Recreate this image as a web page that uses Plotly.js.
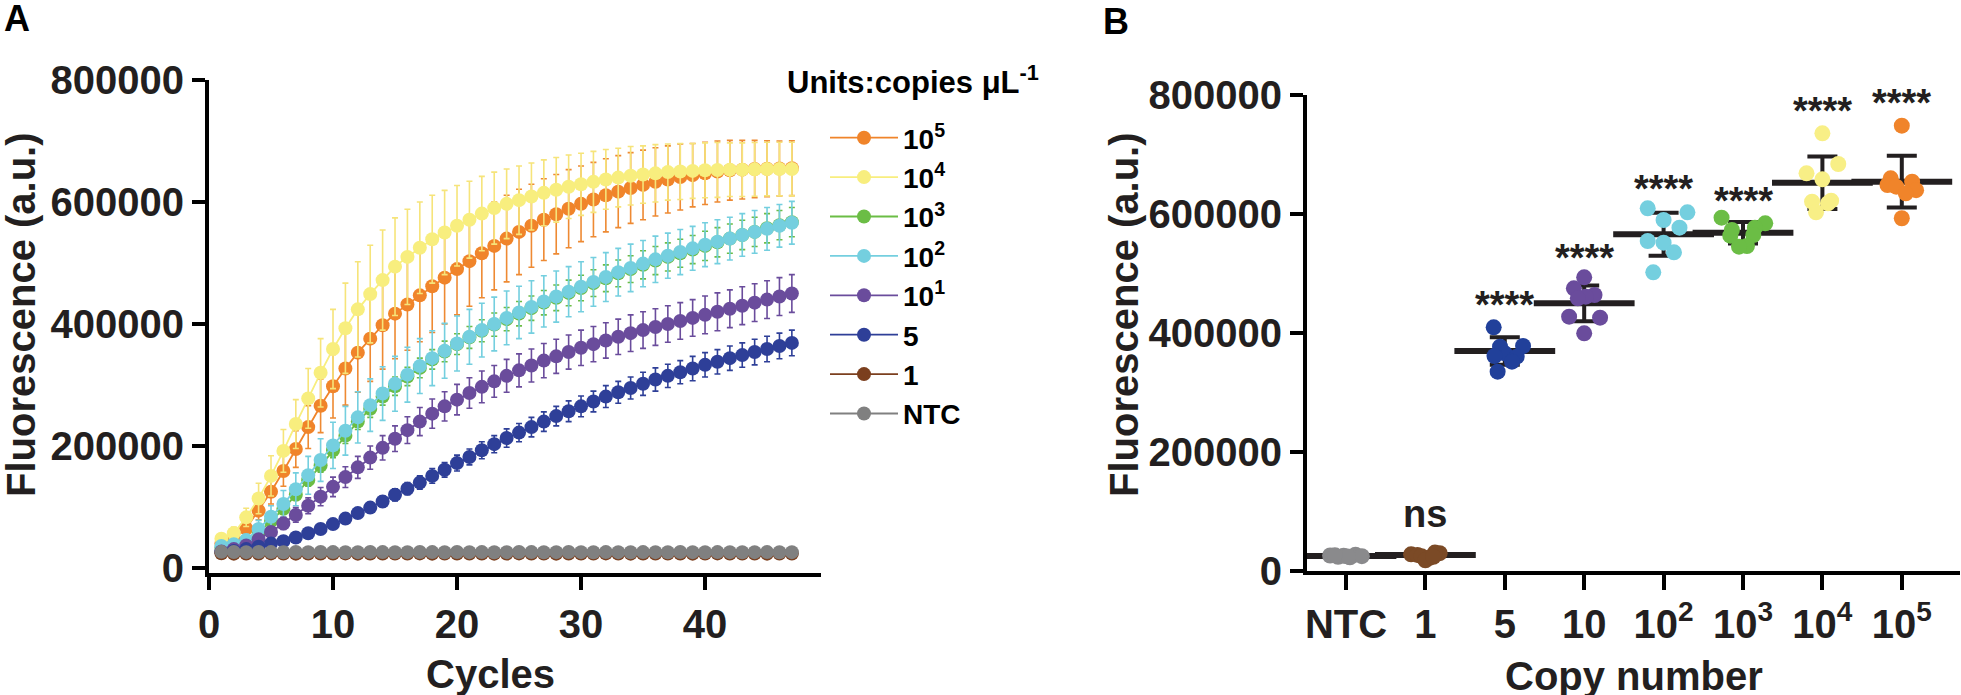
<!DOCTYPE html>
<html><head><meta charset="utf-8">
<script src="https://cdn.plot.ly/plotly-3.0.1.min.js"></script>
<style>html,body{margin:0;padding:0;background:#fff;} #chart{width:1961px;height:695px;}</style>
</head><body><div id="chart"></div>
<script>
// ---------- Panel A : amplification curves ----------
const CYCLES = [1,2,3,4,5,6,7,8,9,10,11,12,13,14,15,16,17,18,19,20,21,22,23,24,25,26,27,28,29,30,31,32,33,34,35,36,37,38,39,40,41,42,43,44,45,46,47];

const SERIES_NAMES = ['10<sup>5</sup>','10<sup>4</sup>','10<sup>3</sup>','10<sup>2</sup>','10<sup>1</sup>','5','1','NTC'];

const MEAN_E5 = [40000,48000,65000,94000,125000,159000,195000,231000,266000,298000,
  327000,353000,376000,398000,417000,432000,447000,462000,476000,490000,
  503000,516000,528000,540000,551000,561000,571000,580000,589000,597000,
  604000,611000,617000,623000,628000,633000,637000,641000,644000,647000,
  650000,652000,653000,654000,654500,655000,655500];
const SD_E5 = [5000,7000,10000,15000,20000,25000,30000,35000,44000,52000,
  60000,65000,70000,72000,74000,75000,76000,76000,76000,75000,
  74000,73000,72000,71000,70000,68000,67000,65000,64000,62000,
  61000,60000,59000,58000,57000,56000,55000,54000,52000,51000,
  50000,49000,48000,47000,46000,45000,45000];

const MEAN_E4 = [48000,57000,83000,114000,151000,192000,236000,278000,320000,359000,
  393000,424000,449000,472000,494000,510000,525000,539000,550000,561000,
  571000,581000,590000,597000,603000,609000,615000,620000,625000,629000,
  633000,637000,640000,643000,645000,647000,649000,650000,651000,652000,
  652500,653000,653000,653500,654000,654000,654000];
const SD_E4 = [8000,10000,15000,25000,33000,35000,40000,49000,56000,65000,
  74000,78000,80000,82000,80000,78000,75000,72000,69000,66000,
  63000,61000,59000,57000,56000,55000,54000,53000,52000,51000,
  50000,49000,48000,48000,47000,47000,46000,46000,45000,45000,
  45000,44000,44000,44000,44000,44000,44000];

const MEAN_E3 = [33000,36000,42000,58000,77000,97000,120000,144000,168000,193000,
  217000,240000,261000,281000,298000,314000,328000,342000,355000,367000,
  378000,389000,399000,408000,417000,426000,435000,443000,451000,459000,
  467000,475000,483000,490000,497000,504000,510000,516000,522000,528000,
  534000,540000,546000,551000,557000,562000,567000];
const SD_E3 = [3000,4000,5000,6000,7000,8000,9000,10000,11000,12000,
  13000,13000,14000,14000,15000,15000,16000,16000,17000,17000,
  18000,18000,19000,19000,20000,20000,20000,21000,21000,21000,
  22000,22000,22000,22000,23000,23000,23000,23000,23000,24000,
  24000,24000,24000,24000,24000,24000,24000];

const MEAN_E2 = [36000,39000,46000,64000,84000,105000,129000,152000,177000,201000,
  225000,247000,267000,286000,302000,317000,331000,344000,356000,368000,
  379000,390000,400000,410000,419000,428000,437000,445000,453000,461000,
  469000,477000,485000,492000,499000,506000,512000,518000,524000,530000,
  535000,540000,546000,551000,556000,561000,566000];
const SD_E2 = [5000,6000,9000,14000,18000,22000,27000,31000,35000,38000,
  40000,42000,43000,44000,45000,45000,45000,45000,45000,45000,
  45000,44000,44000,44000,43000,43000,42000,42000,41000,41000,
  40000,40000,39000,39000,38000,38000,37000,37000,36000,36000,
  36000,35000,35000,35000,35000,35000,35000];

const MEAN_E1 = [27000,31000,37000,47000,59000,73000,87000,102000,117000,133000,
  149000,165000,181000,197000,212000,226000,240000,253000,265000,276000,
  287000,297000,306000,315000,324000,332000,340000,347000,354000,361000,
  367000,373000,379000,385000,390000,395000,400000,405000,410000,415000,
  420000,425000,430000,435000,440000,445000,450000];
const SD_E1 = [2000,3000,4000,6000,8000,10000,12000,13000,15000,16000,
  17000,18000,19000,20000,21000,22000,23000,24000,24000,25000,
  25000,26000,26000,27000,27000,27000,28000,28000,28000,29000,
  29000,29000,29000,30000,30000,30000,30000,30000,30000,31000,
  31000,31000,31000,31000,31000,31000,31000];

const MEAN_5 = [26000,28000,31000,35000,40000,44000,50000,57000,64000,72000,
  81000,90000,99000,109000,120000,130000,140000,151000,161000,172000,
  182000,193000,203000,213000,222000,231000,240000,249000,257000,265000,
  273000,281000,288000,295000,302000,309000,315000,321000,327000,333000,
  338000,344000,349000,354000,359000,364000,369000];
const SD_5 = [2000,2000,3000,3000,4000,4000,5000,5000,6000,6000,
  7000,8000,8000,9000,10000,10000,11000,12000,12000,13000,
  13000,14000,14000,15000,15000,16000,16000,16000,17000,17000,
  17000,18000,18000,18000,19000,19000,19000,19000,20000,20000,
  20000,20000,20000,21000,21000,21000,21000];

const MEAN_1 = [24000,23500,23800,23600,23900,23700,23500,23800,23600,23700,
  23900,23500,23600,23800,23700,23600,23900,23500,23700,23800,
  23600,23700,23500,23800,23900,23600,23700,23500,23800,23600,
  23700,23900,23600,23500,23800,23700,23600,23800,23500,23700,
  23900,23600,23700,23800,23500,23700,23600];
const SD_1 = [1500,1500,1500,1500,1500,1500,1500,1500,1500,1500,
  1500,1500,1500,1500,1500,1500,1500,1500,1500,1500,
  1500,1500,1500,1500,1500,1500,1500,1500,1500,1500,
  1500,1500,1500,1500,1500,1500,1500,1500,1500,1500,
  1500,1500,1500,1500,1500,1500,1500];

const MEAN_NTC = [26500,26200,26000,26300,26100,25900,26200,26000,26300,26100,
  25800,26000,26200,26100,25900,26000,26300,26100,25900,26200,
  26000,26100,25800,26000,26200,26100,25900,26000,26200,26000,
  25900,26100,26000,25800,26100,26000,25900,26200,26000,25900,
  26100,26000,25800,26000,26100,25900,26000];
const SD_NTC = [1200,1200,1200,1200,1200,1200,1200,1200,1200,1200,
  1200,1200,1200,1200,1200,1200,1200,1200,1200,1200,
  1200,1200,1200,1200,1200,1200,1200,1200,1200,1200,
  1200,1200,1200,1200,1200,1200,1200,1200,1200,1200,
  1200,1200,1200,1200,1200,1200,1200];

// ---------- Panel B : end-point fluorescence ----------
const GROUP_LABELS = ['NTC','1','5','10','10<sup>2</sup>','10<sup>3</sup>','10<sup>4</sup>','10<sup>5</sup>'];
const PTS_NTC = [26000,24000,25500,23000,27500,25000,24500,26500];
const PTS_1   = [30000,28000,27000,31000,25000,22000,18000,24000];
const PTS_5   = [409500,378200,377000,365800,361400,360200,351800,335000];
const PTS_10  = [493500,475100,463900,461000,458300,427400,425700,399500];
const PTS_E2  = [609500,602800,589900,577000,554600,551800,535600,502000];
const PTS_E3  = [593800,584300,577000,573100,564700,563600,546200,545100];
const PTS_E4  = [735600,684000,668400,658300,622400,620700,618000,602800];
const PTS_E5  = [748500,660000,654300,648700,645900,640000,634700,592800];
const GROUP_MEAN = [25200,26900,369800,449900,565900,568600,652600,654300];
const GROUP_SD   = [1500,4000,23000,30000,36000,18000,44000,43500];
const SIG_LABELS = ['','ns','****','****','****','****','****','****'];
const SIG_Y      = [null,91300,460500,539500,655500,635300,786600,800000];

// ---------- styling (not data) ----------
const FONT = 'Liberation Sans, Arial, Helvetica, sans-serif';
const TXT = '#231f20';
const COLORS_A = ['#f0842a','#f8ee7e','#6bbd45','#74cfdf','#6a4c9c','#2e3f98','#7b3f1e','#808080'];
const ERR_COLORS_A = ['#ee8a33','#f6e47a','#6bbd45','#74cfdf','#6a4c9c','#2e3f98','#7b3f1e','#808080'];
const COLORS_B = ['#8a8a8c','#7b4a26','#21409a','#6a4c9c','#74cfdf','#6bbd45','#f8ef86','#f0842a'];
const JITTER = [
  [-0.2,-0.1,-0.03,0.05,0.12,0.2,0.02,-0.14],
  [0.18,-0.18,-0.1,0.12,-0.05,0.05,0,0.1],
  [-0.14,0.23,-0.06,0,-0.13,0.15,0.09,-0.09],
  [0,-0.13,0.13,0.02,-0.08,-0.19,0.2,0],
  [-0.2,0.3,0,0.2,-0.2,0,0.13,-0.13],
  [-0.27,0.28,0.15,-0.14,0.13,-0.16,0.05,-0.05],
  [0,0.2,-0.2,0,0.11,-0.13,0.07,-0.08],
  [0,-0.14,0.13,-0.18,-0.07,0.18,0.05,0]
];

const MEANS_A = [MEAN_E5,MEAN_E4,MEAN_E3,MEAN_E2,MEAN_E1,MEAN_5,MEAN_1,MEAN_NTC];
const SDS_A = [SD_E5,SD_E4,SD_E3,SD_E2,SD_E1,SD_5,SD_1,SD_NTC];
const PTS_B = [PTS_NTC,PTS_1,PTS_5,PTS_10,PTS_E2,PTS_E3,PTS_E4,PTS_E5];

const traces = [];
MEANS_A.forEach((m,i)=>{
  traces.push({
    type:'scatter', mode:'lines+markers', x:CYCLES, y:m, name:SERIES_NAMES[i],
    xaxis:'x', yaxis:'y',
    line:{color:COLORS_A[i], width:1.8},
    marker:{color:COLORS_A[i], size:14},
    error_y:{type:'data', array:SDS_A[i], visible:true, color:ERR_COLORS_A[i], thickness:1.6, width:3},
    showlegend:true
  });
});

// mean ± SD bars (drawn first, under the dots)
traces.push({
  type:'scatter', mode:'markers', xaxis:'x2', yaxis:'y2', showlegend:false,
  x:GROUP_LABELS.map((_,i)=>i), y:GROUP_MEAN,
  marker:{symbol:'line-ew', size:72, color:TXT, line:{color:TXT, width:6}},
  error_y:{type:'data', array:GROUP_SD, visible:true, color:TXT, thickness:4, width:15}
});
PTS_B.forEach((pts,g)=>{
  traces.push({
    type:'scatter', mode:'markers', xaxis:'x2', yaxis:'y2', showlegend:false,
    x:pts.map((_,k)=>g+JITTER[g][k]), y:pts,
    marker:{color:COLORS_B[g], size:16}
  });
});

const W=1961, H=695;
const px = v=>v/W, py = v=>1-v/H;

const tickFont = {family:FONT, size:40, color:TXT, weight:700};
const axisCommon = {showgrid:false, zeroline:false, showline:true, linecolor:'#000', linewidth:4,
  ticks:'outside', ticklen:13, tickwidth:4, tickcolor:'#000', tickfont:tickFont, fixedrange:true};

const annotations = [];
const ann = (o)=>annotations.push(Object.assign({showarrow:false, font:{family:FONT, size:40, color:TXT, weight:700}}, o));
ann({text:'A', xref:'paper', yref:'paper', x:px(17), y:py(18), xanchor:'center', yanchor:'middle', font:{family:FONT,size:36,color:'#000',weight:700}});
ann({text:'B', xref:'paper', yref:'paper', x:px(1116), y:py(22), xanchor:'center', yanchor:'middle', font:{family:FONT,size:36,color:'#000',weight:700}});
ann({text:'Fluorescence (a.u.)', xref:'paper', yref:'paper', x:px(21), y:py(315), textangle:-90, xanchor:'center', yanchor:'middle'});
ann({text:'Fluorescence (a.u.)', xref:'paper', yref:'paper', x:px(1124), y:py(315), textangle:-90, xanchor:'center', yanchor:'middle'});
ann({text:'Cycles', xref:'paper', yref:'paper', x:px(490), y:py(674), xanchor:'center', yanchor:'middle'});
ann({text:'Copy number', xref:'paper', yref:'paper', x:px(1634), y:py(676), xanchor:'center', yanchor:'middle'});
ann({text:'Units:copies μL<sup>-1</sup>', xref:'paper', yref:'paper', x:px(785), y:py(80), xanchor:'left', yanchor:'middle', font:{family:FONT,size:31,color:'#000',weight:700}});
SIG_LABELS.forEach((t,i)=>{
  if(!t) return;
  ann({text:t, xref:'x2', yref:'y2', x:i, y:SIG_Y[i], xanchor:'center', yanchor:'middle',
       yshift: t==='ns'?3:-8, font:{family:FONT,size:38,color:TXT,weight:700}});
});

const layout = {
  width:W, height:H, margin:{l:0,r:0,t:0,b:0}, paper_bgcolor:'#fff', plot_bgcolor:'rgba(0,0,0,0)',
  showlegend:true,
  legend:{x:px(825), y:py(113), xanchor:'left', yanchor:'top', bgcolor:'rgba(0,0,0,0)',
    font:{family:FONT, size:28, color:'#000', weight:700}, itemwidth:68, tracegroupgap:0, itemclick:false, itemdoubleclick:false},
  xaxis:Object.assign({}, axisCommon, {domain:[px(209), px(821)], range:[0,49.35], tickvals:[0,10,20,30,40], anchor:'y'}),
  yaxis:Object.assign({}, axisCommon, {domain:[py(573), py(80)], range:[-8200,800000], tickvals:[0,200000,400000,600000,800000], tickformat:'d', anchor:'x'}),
  xaxis2:Object.assign({}, axisCommon, {domain:[px(1307), px(1960)], range:[-0.491,7.733], tickvals:[0,1,2,3,4,5,6,7], ticktext:GROUP_LABELS, anchor:'y2', ticklen:15}),
  yaxis2:Object.assign({}, axisCommon, {domain:[py(571), py(95)], range:[0,800000], tickvals:[0,200000,400000,600000,800000], tickformat:'d', anchor:'x2'}),
  annotations:annotations
};

Plotly.newPlot('chart', traces, layout, {staticPlot:true, displayModeBar:false});
</script>
</body></html>
